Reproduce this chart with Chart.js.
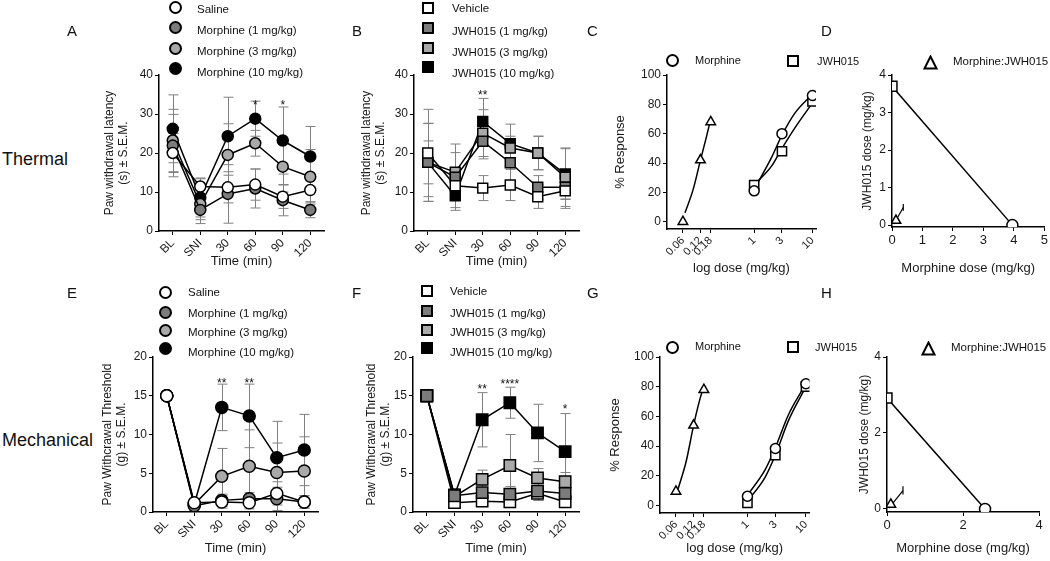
<!DOCTYPE html>
<html>
<head>
<meta charset="utf-8">
<script src="https://cdn.jsdelivr.net/npm/chart.js@4.4.0/dist/chart.umd.min.js"></script>
<style>
body { margin: 0; background: #fff; width: 1050px; height: 561px; position: relative; overflow: hidden;
       font-family: "Liberation Sans", Arial, sans-serif; color: #111; }
canvas { position: absolute; }
.t { position: absolute; white-space: nowrap; line-height: 1; }
.mk { position: absolute; box-sizing: border-box; border: 2px solid #000; }
</style>
</head>
<body>
<script>
// ---- data ----
const timeLabels = ['BL', 'SNI', '30', '60', '90', '120'];

// A: thermal, morphine
const salineA = [20.0, 11.4, 11.2, 11.9, 8.8, 10.5];
const salineAErr = [5, 2, 4, 4, 3, 3];
const mor1A = [21.9, 5.4, 9.5, 10.9, 7.9, 5.4];
const mor1AErr = [8, 3.5, 7.5, 5, 4, 2];
const mor3A = [23.2, 6.9, 19.5, 22.5, 16.5, 13.9];
const mor3AErr = [8, 4, 8, 3.3, 6.5, 7];
const mor10A = [26.2, 8.6, 24.3, 28.8, 23.2, 19.1];
const mor10AErr = [8.7, 5, 10, 4.5, 8.6, 7.7];
const starsA = [{ at: '60', y: 33, text: '*' }, { at: '90', y: 33, text: '*' }];

// B: thermal, JWH015
const vehicleB = [20.0, 11.6, 11.0, 11.8, 8.8, 10.3];
const vehicleBErr = [11.2, 3, 3.2, 4, 3, 4.5];
const jwh1B = [17.6, 13.8, 23.0, 17.5, 11.2, 11.2];
const jwh1BErr = [10, 8.5, 4.5, 5, 3, 3];
const jwh3B = [17.6, 15.1, 25.1, 21.3, 20.0, 13.8];
const jwh3BErr = [5.5, 5, 6, 3, 4.3, 7.5];
const jwh10B = [17.6, 9.0, 28.1, 22.4, 20.0, 14.6];
const jwh10BErr = [10, 3, 5.9, 5, 4.3, 6.5];
const starsB = [{ at: '30', y: 35.5, text: '**' }];

// C: thermal dose response
const doseTicks = [0.06, 0.12, 0.18, 1, 3, 10];
const comboC = [{ x: 0.06, y: 0 }, { x: 0.12, y: 42 }, { x: 0.18, y: 68 }];
const morC = [{ x: 1, y: 21 }, { x: 3, y: 60 }, { x: 10, y: 86 }];
const jwhC = [{ x: 1, y: 25 }, { x: 3, y: 48 }, { x: 10, y: 82 }];
const comboFitC = [{ x: 0.065, y: 6 }, { x: 0.09, y: 22 }, { x: 0.12, y: 42 }, { x: 0.15, y: 57 }, { x: 0.175, y: 68 }];
const morFitC = [{ x: 1, y: 22 }, { x: 2, y: 44 }, { x: 3, y: 59 }, { x: 5, y: 74 }, { x: 10, y: 87 }];
const jwhFitC = [{ x: 1, y: 25 }, { x: 2, y: 38 }, { x: 3, y: 50 }, { x: 5, y: 64 }, { x: 10, y: 81 }];

// D: thermal isobologram
const isoD = [{ x: 0, y: 3.7 }, { x: 3.95, y: 0 }];
const comboD = [{ x: 0.13, y: 0.12 }];
const ciD = [{ x: 0.06, y: 0.03 }, { x: 0.37, y: 0.47 }];
const ciCapD = [{ x: 0.37, y: 0.38 }, { x: 0.37, y: 0.56 }];

// E: mechanical, morphine
const salineE = [15, 1.2, 1.3, 1.2, 2.4, 1.3];
const salineEErr = [0, 0.5, 0.8, 0.8, 1.5, 0.8];
const mor1E = [15, 0.8, 1.5, 1.7, 1.7, 1.3];
const mor1EErr = [0, 0.4, 0.8, 0.8, 1.5, 0.8];
const mor3E = [15, 1.0, 4.6, 5.9, 5.1, 5.3];
const mor3EErr = [0, 0.5, 3.6, 4.7, 3.8, 4.4];
const mor10E = [15, 1.0, 13.5, 12.4, 7.0, 8.0];
const mor10EErr = [0, 0.5, 3.0, 4.1, 4.7, 4.6];
const starsE = [{ at: '30', y: 17, text: '**' }, { at: '60', y: 17, text: '**' }];

// F: mechanical, JWH015
const vehicleF = [15, 1.2, 1.4, 1.3, 2.4, 1.3];
const vehicleFErr = [0, 0.4, 0.7, 0.7, 0.9, 0.7];
const jwh1F = [15, 2.1, 2.5, 2.3, 2.7, 2.4];
const jwh1FErr = [0, 0.8, 1.0, 1.0, 1.2, 1.0];
const jwh3F = [15, 2.0, 4.2, 6.0, 4.4, 3.9];
const jwh3FErr = [0, 0.8, 1.2, 4.0, 1.2, 1.2];
const jwh10F = [15, 2.2, 11.9, 14.1, 10.2, 7.8];
const jwh10FErr = [0, 0.8, 3.5, 2.0, 3.7, 4.9];
const starsF = [{ at: '30', y: 16.2, text: '**' }, { at: '60', y: 16.8, text: '****' }, { at: '120', y: 13.6, text: '*' }];

// G: mechanical dose response
const comboG = [{ x: 0.06, y: 9.5 }, { x: 0.12, y: 54 }, { x: 0.18, y: 78 }];
const morG = [{ x: 1, y: 6.3 }, { x: 3, y: 38.4 }, { x: 10, y: 82 }];
const jwhG = [{ x: 1, y: 1.8 }, { x: 3, y: 34 }, { x: 10, y: 80 }];
const comboFitG = [{ x: 0.065, y: 11 }, { x: 0.09, y: 30 }, { x: 0.12, y: 54 }, { x: 0.15, y: 70 }, { x: 0.175, y: 79 }];
const morFitG = [{ x: 1, y: 7 }, { x: 2, y: 24 }, { x: 3, y: 39 }, { x: 5, y: 61 }, { x: 10, y: 82 }];
const jwhFitG = [{ x: 1, y: 3 }, { x: 2, y: 19 }, { x: 3, y: 34 }, { x: 5, y: 57 }, { x: 10, y: 80 }];

// H: mechanical isobologram
const isoH = [{ x: 0, y: 2.92 }, { x: 2.58, y: 0 }];
const comboH = [{ x: 0.1, y: 0.12 }];
const ciH = [{ x: 0.05, y: 0.02 }, { x: 0.42, y: 0.48 }];
const ciCapH = [{ x: 0.42, y: 0.38 }, { x: 0.42, y: 0.6 }];

const WHITE = '#ffffff', DARK = '#7c7c7c', LIGHT = '#a9a9a9', BLACK = '#000000';
const FONT = '"Liberation Sans", Arial, sans-serif';

Chart.defaults.font.family = FONT;
Chart.defaults.color = '#1a1a1a';
Chart.defaults.animation = false;
Chart.defaults.plugins.legend.display = false;
Chart.defaults.plugins.tooltip.enabled = false;

// error bars + asterisks, per canvas id
const extras = {
    A: { errs: [salineAErr, mor1AErr, mor3AErr, mor10AErr], stars: starsA },
    B: { errs: [vehicleBErr, jwh1BErr, jwh3BErr, jwh10BErr], stars: starsB },
    E: { errs: [salineEErr, mor1EErr, mor3EErr, mor10EErr], stars: starsE },
    F: { errs: [jwh1FErr, vehicleFErr, jwh3FErr, jwh10FErr], stars: starsF }
};

const annot = {
    id: 'annot',
    beforeDatasetsDraw(chart) {
        const ex = extras[chart.canvas.id];
        if (!ex) return;
        const ctx = chart.ctx, x = chart.scales.x, y = chart.scales.y;
        ctx.save();
        ctx.strokeStyle = '#808080';
        ctx.lineWidth = 1;
        ex.errs.forEach((errs, di) => {
            const vals = chart.data.datasets[di].data;
            errs.forEach((e, i) => {
                if (!e) return;
                const px = Math.round(x.getPixelForValue(i)) + 0.5;
                const hi = y.getPixelForValue(vals[i] + e);
                const lo = y.getPixelForValue(Math.max(vals[i] - e, 0));
                ctx.beginPath();
                ctx.moveTo(px, hi); ctx.lineTo(px, lo);
                ctx.moveTo(px - 5, hi); ctx.lineTo(px + 5, hi);
                ctx.moveTo(px - 5, lo); ctx.lineTo(px + 5, lo);
                ctx.stroke();
            });
        });
        ctx.restore();
    },
    afterDatasetsDraw(chart) {
        const ex = extras[chart.canvas.id];
        if (!ex) return;
        const ctx = chart.ctx, x = chart.scales.x, y = chart.scales.y;
        ctx.save();
        ctx.fillStyle = '#111';
        ctx.font = '12px ' + FONT;
        ctx.textAlign = 'center';
        ctx.textBaseline = 'middle';
        ex.stars.forEach(s => {
            ctx.fillText(s.text, x.getPixelForValue(timeLabels.indexOf(s.at)), y.getPixelForValue(s.y) + 3);
        });
        ctx.restore();
    }
};
Chart.register(annot);

function addCanvas(id, box) {
    const c = document.createElement('canvas');
    c.id = id;
    c.width = box[2] - box[0];
    c.height = box[3] - box[1];
    c.style.left = box[0] + 'px';
    c.style.top = box[1] + 'px';
    document.body.appendChild(c);
    return c;
}

const gridOpts = { drawOnChartArea: false, drawTicks: true, tickLength: 4, color: '#000', lineWidth: 1 };
const borderOpts = { display: true, color: '#000', width: 1.5 };

function yScale(box, area, min, max, ticks, title, size, pad) {
    return {
        min: min, max: max,
        afterBuildTicks: s => { s.ticks = ticks.map(v => ({ value: v })); },
        afterFit: s => { s.width = area[0] - box[0]; },
        grid: gridOpts, border: borderOpts,
        ticks: { font: { size: 12 }, padding: 2, color: '#1a1a1a', callback: v => String(v) },
        title: { display: true, text: title, color: '#1a1a1a', font: { size: size, lineHeight: 1.15 }, padding: { top: pad, bottom: 0 } }
    };
}

function xTitle(text) {
    return { display: true, text: text, color: '#1a1a1a', font: { size: 13, lineHeight: 1.15 }, padding: { top: 0, bottom: 2 } };
}

function layoutOf(box, area) {
    return { autoPadding: false, padding: { top: area[1] - box[1], right: box[2] - area[2], left: 0, bottom: 0 } };
}

function series(data, fill, style, r) {
    return {
        data: data, pointStyle: style, pointRadius: r, pointBackgroundColor: fill,
        pointBorderColor: '#000', pointBorderWidth: 1.5, borderColor: '#000', borderWidth: 1.5,
        showLine: true, tension: 0, fill: false
    };
}

function timePanel(id, box, area, yMax, ticks, yTitle, sets) {
    new Chart(addCanvas(id, box), {
        type: 'line',
        data: { labels: timeLabels, datasets: sets },
        options: {
            responsive: false,
            layout: layoutOf(box, area),
            scales: {
                x: {
                    type: 'category', offset: true,
                    afterFit: s => { s.height = box[3] - area[3]; },
                    grid: gridOpts, border: borderOpts,
                    ticks: { font: { size: 12 }, minRotation: 45, maxRotation: 45, autoSkip: false, padding: 1, color: '#1a1a1a' },
                    title: xTitle('Time (min)')
                },
                y: yScale(box, area, 0, yMax, ticks, yTitle, 12, 3)
            }
        }
    });
}

function curve(data) {
    return { data: data, showLine: true, pointRadius: 0, borderColor: '#000', borderWidth: 1.5, cubicInterpolationMode: 'monotone', fill: false };
}

function dosePanel(id, box, area, combo, mor, jwh, fits) {
    new Chart(addCanvas(id, box), {
        type: 'scatter',
        data: {
            datasets: [
                series(combo, WHITE, 'triangle', 5.5),
                series(mor, WHITE, 'circle', 5),
                series(jwh, WHITE, 'rect', 6.5),
                curve(fits[0]), curve(fits[1]), curve(fits[2])
            ].map((d, i) => (i < 3 ? Object.assign(d, { showLine: false }) : d))
        },
        options: {
            responsive: false,
            layout: layoutOf(box, area),
            scales: {
                x: {
                    type: 'logarithmic', min: 0.032, max: 11.5,
                    afterBuildTicks: s => { s.ticks = doseTicks.map(v => ({ value: v })); },
                    afterFit: s => { s.height = box[3] - area[3]; },
                    grid: gridOpts, border: borderOpts,
                    ticks: { font: { size: 11 }, minRotation: 45, maxRotation: 45, autoSkip: false, padding: 1, color: '#1a1a1a', callback: v => String(v) },
                    title: xTitle('log dose (mg/kg)')
                },
                y: yScale(box, area, -5, 100, [0, 20, 40, 60, 80, 100], '% Response', 13, 2.5)
            }
        }
    });
}

function isoPanel(id, box, area, yMin, xMax, xTicks, yTicks, iso, combo, ci, cap) {
    const line = series(iso, WHITE, ['rect', 'circle'], [7, 5.5]);
    const tri = series(combo, WHITE, 'triangle', 5.5);
    tri.showLine = false;
    const seg = { data: ci, showLine: true, pointRadius: 0, borderColor: '#000', borderWidth: 1.2 };
    const capSeg = { data: cap, showLine: true, pointRadius: 0, borderColor: '#000', borderWidth: 1.2 };
    new Chart(addCanvas(id, box), {
        type: 'scatter',
        data: { datasets: [line, tri, seg, capSeg] },
        options: {
            responsive: false,
            layout: layoutOf(box, area),
            scales: {
                x: {
                    type: 'linear', min: 0, max: xMax,
                    afterBuildTicks: s => { s.ticks = xTicks.map(v => ({ value: v })); },
                    afterFit: s => { s.height = box[3] - area[3]; },
                    grid: gridOpts, border: borderOpts,
                    ticks: { font: { size: 13 }, maxRotation: 0, autoSkip: false, padding: 2, color: '#1a1a1a', callback: v => String(v) },
                    title: xTitle('Morphine dose (mg/kg)')
                },
                y: yScale(box, area, yMin, 4, yTicks, 'JWH015 dose (mg/kg)', 12, 5)
            }
        }
    });
}

// ---- panels ----
timePanel('A', [100, 55, 335, 271], [159, 75, 324, 231], 40, [0, 10, 20, 30, 40],
    ['Paw withdrawal latency', '(s) \u00b1 S.E.M.'], [
        series(salineA, WHITE, 'circle', 5.5),
        series(mor1A, DARK, 'circle', 5.5),
        series(mor3A, LIGHT, 'circle', 5.5),
        series(mor10A, BLACK, 'circle', 5.5)
    ]);

timePanel('B', [357, 55, 590, 271], [414, 75, 579, 231], 40, [0, 10, 20, 30, 40],
    ['Paw withdrawal latency', '(s) \u00b1 S.E.M.'], [
        series(vehicleB, WHITE, 'rect', 7),
        series(jwh1B, DARK, 'rect', 7),
        series(jwh3B, LIGHT, 'rect', 7),
        series(jwh10B, BLACK, 'rect', 7)
    ]);

dosePanel('C', [610, 55, 825, 278], [667, 75, 816, 229], comboC, morC, jwhC, [comboFitC, morFitC, jwhFitC]);

isoPanel('D', [856, 55, 1050, 278], [892, 75, 1045, 227], -0.05, 5, [0, 1, 2, 3, 4, 5], [0, 1, 2, 3, 4],
    isoD, comboD, ciD, ciCapD);

timePanel('E', [98, 340, 330, 558], [153, 357, 318, 512], 20, [0, 5, 10, 15, 20],
    ['Paw Withcrawal Threshold', '(g) \u00b1 S.E.M.'], [
        series(salineE, WHITE, 'circle', 6),
        series(mor1E, DARK, 'circle', 6),
        series(mor3E, LIGHT, 'circle', 6),
        series(mor10E, BLACK, 'circle', 6)
    ]);

timePanel('F', [362, 340, 590, 558], [413, 357, 579, 512], 20, [0, 5, 10, 15, 20],
    ['Paw Withcrawal Threshold', '(g) \u00b1 S.E.M.'], [
        series(jwh1F, DARK, 'rect', 8),
        series(vehicleF, WHITE, 'rect', 8),
        series(jwh3F, LIGHT, 'rect', 8),
        series(jwh10F, BLACK, 'rect', 8)
    ]);

dosePanel('G', [605, 340, 820, 558], [660, 357, 809.5, 513], comboG, morG, jwhG, [comboFitG, morFitG, jwhFitG]);

isoPanel('H', [853, 340, 1050, 558], [887, 357, 1039, 512], -0.08, 4, [0, 2, 4], [0, 2, 4],
    isoH, comboH, ciH, ciCapH);

// ---- legends and labels (html) ----
function mark(shape, cx, cy, size, fill) {
    if (shape === 'tri') {
        const ns = 'http://www.w3.org/2000/svg';
        const s = document.createElementNS(ns, 'svg');
        s.setAttribute('width', size); s.setAttribute('height', size);
        s.style.cssText = 'position:absolute;left:' + (cx - size / 2) + 'px;top:' + (cy - size / 2) + 'px';
        const p = document.createElementNS(ns, 'polygon');
        p.setAttribute('points', (size / 2) + ',1.5 ' + (size - 1.5) + ',' + (size - 1.5) + ' 1.5,' + (size - 1.5));
        p.setAttribute('fill', fill); p.setAttribute('stroke', '#000'); p.setAttribute('stroke-width', '2');
        s.appendChild(p);
        document.body.appendChild(s);
        return;
    }
    const d = document.createElement('div');
    d.className = 'mk';
    d.style.cssText = 'left:' + (cx - size / 2) + 'px;top:' + (cy - size / 2) + 'px;width:' + size + 'px;height:' + size +
        'px;background:' + fill + ';' + (shape === 'circle' ? 'border-radius:50%;' : '');
    document.body.appendChild(d);
}

function text(str, x, cy, size, extra) {
    const d = document.createElement('div');
    d.className = 't';
    d.textContent = str;
    d.style.cssText = 'left:' + x + 'px;top:' + (cy - size * 0.55) + 'px;font-size:' + size + 'px;' + (extra || '');
    document.body.appendChild(d);
}

const morNames = ['Saline', 'Morphine (1 mg/kg)', 'Morphine (3 mg/kg)', 'Morphine (10 mg/kg)'];
const jwhNames = ['Vehicle', 'JWH015 (1 mg/kg)', 'JWH015 (3 mg/kg)', 'JWH015 (10 mg/kg)'];
const fills = [WHITE, DARK, LIGHT, BLACK];

[7, 27, 48, 68].forEach((y, i) => mark('circle', 175, y, 13, fills[i]));
[10, 31, 52, 73].forEach((y, i) => text(morNames[i], 197, y, 11.5));
[8, 28, 48, 67].forEach((y, i) => mark('rect', 428, y, 12, fills[i]));
[9, 32, 53, 74].forEach((y, i) => text(jwhNames[i], 452, y, 11.5));
[292, 312, 330, 348].forEach((y, i) => mark('circle', 165, y, 13, fills[i]));
[293, 314, 333, 353].forEach((y, i) => text(morNames[i], 188, y, 11.5));
[291, 311, 330, 348].forEach((y, i) => mark('rect', 427, y, 12, fills[i]));
[292, 314, 333, 353].forEach((y, i) => text(jwhNames[i], 450, y, 11.5));

mark('circle', 672, 60, 13, WHITE); text('Morphine', 695, 61, 11);
mark('rect', 793, 61, 12, WHITE); text('JWH015', 817, 62, 11);
mark('tri', 930, 62, 15, WHITE); text('Morphine:JWH015', 953, 62, 11.5);
mark('circle', 672, 347, 13, WHITE); text('Morphine', 695, 347, 11);
mark('rect', 793, 347, 12, WHITE); text('JWH015', 815, 348, 11);
mark('tri', 928, 348, 15, WHITE); text('Morphine:JWH015', 951, 348, 11.5);

text('Thermal', 2, 160, 18);
text('Mechanical', 2, 441, 18);
[['A', 67, 31], ['B', 352, 31], ['C', 587, 31], ['D', 821, 31],
 ['E', 67, 293], ['F', 352, 293], ['G', 587, 293], ['H', 821, 293]].forEach(l => text(l[0], l[1], l[2], 15));
</script>
</body>
</html>
